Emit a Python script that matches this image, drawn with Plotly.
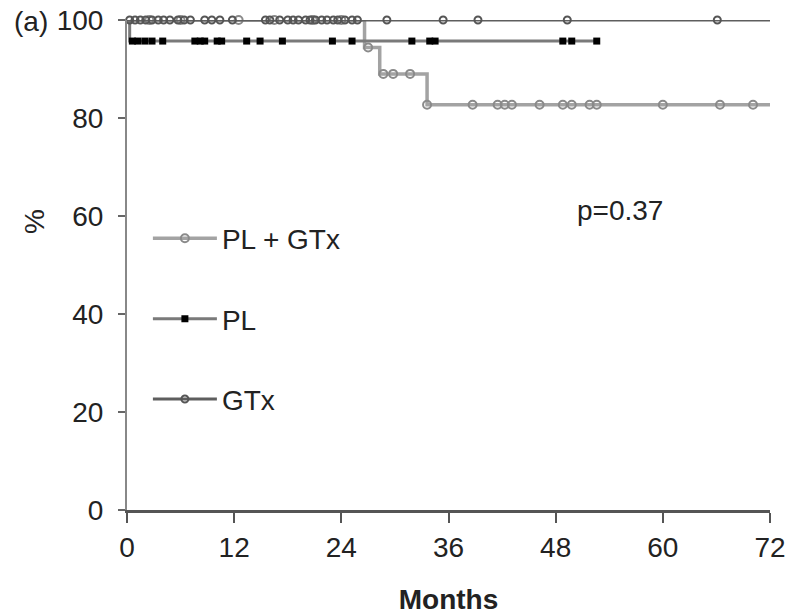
import numpy as np
import plotly.graph_objects as go

# ---------------- data ----------------
group_names = ["PL + GTx", "PL", "GTx"]

# PL + GTx
plgtx_event_times = [26.6, 28.3, 33.6]
plgtx_event_surv = [94.4, 89.0, 82.7]
plgtx_end = 72.0
plgtx_censor = [2.5, 6.0, 12.5, 16.5, 20.8, 24.0, 27.0, 28.7, 29.8, 31.7, 33.6,
                38.7, 41.5, 42.3, 43.1, 46.2, 48.8, 49.8, 51.8, 52.6, 60.0, 66.4, 70.1]

# PL
pl_event_times = [0.3]
pl_event_surv = [95.7]
pl_end = 52.6
pl_censor = [0.6, 1.2, 2.0, 2.8, 4.0, 7.6, 8.2, 8.7, 10.1, 10.6, 13.4, 14.9, 17.4,
             23.0, 25.2, 31.9, 33.9, 34.5, 48.8, 49.8, 52.6]

# GTx
gtx_event_times = []
gtx_event_surv = []
gtx_end = 72.0
gtx_censor = [0.3, 0.9, 1.5, 2.1, 2.8, 3.5, 4.1, 4.8, 5.7, 6.4, 7.1, 8.7, 9.5, 10.4,
              11.8, 15.5, 16.0, 17.1, 18.0, 18.6, 19.2, 20.0, 20.5, 21.1, 21.8, 22.4,
              23.1, 23.6, 24.4, 25.2, 25.8, 29.1, 35.4, 39.3, 49.3, 66.1]

x_ticks = [0, 12, 24, 36, 48, 60, 72]
y_ticks = [0, 20, 40, 60, 80, 100]
p_text = "p=0.37"

# ---------------- styles ----------------
FONT = "Liberation Sans, Arial, sans-serif"
styles = {
    "PL + GTx": dict(color="#a3a3a3", width=3.5, symbol="circle-open", msize=8, mcolor="#8a8a8a", mline=2),
    "PL": dict(color="#7a7a7a", width=3, symbol="square", msize=7, mcolor="#000000", mline=0),
    "GTx": dict(color="#5e5e5e", width=3, symbol="circle-open", msize=7, mcolor="#555555", mline=2),
}


def step_curve(times, surv, end):
    xs = [0.0] + list(times) + [end]
    ys = [100.0] + list(surv) + [surv[-1] if surv else 100.0]
    return xs, ys


def surv_at(t, times, surv):
    s = 100.0
    for ti, si in zip(times, surv):
        if t >= ti:
            s = si
    return s


groups = {
    "PL + GTx": (plgtx_event_times, plgtx_event_surv, plgtx_end, plgtx_censor),
    "PL": (pl_event_times, pl_event_surv, pl_end, pl_censor),
    "GTx": (gtx_event_times, gtx_event_surv, gtx_end, gtx_censor),
}

fig = go.Figure()
draw_order = ["PL + GTx", "PL", "GTx"]
for name in draw_order:
    times, surv, end, cens = groups[name]
    st = styles[name]
    xs, ys = step_curve(times, surv, end)
    fig.add_trace(go.Scatter(x=xs, y=ys, mode="lines", line=dict(shape="hv", color=st["color"], width=st["width"]),
                             showlegend=False, cliponaxis=False, hoverinfo="skip"))
    cy = [surv_at(t, times, surv) for t in cens]
    fig.add_trace(go.Scatter(x=cens, y=cy, mode="markers",
                             marker=dict(symbol=st["symbol"], size=st["msize"], color=st["mcolor"],
                                         line=dict(width=st["mline"], color=st["mcolor"])),
                             showlegend=False, cliponaxis=False))

# legend-only traces
for i, name in enumerate(group_names):
    st = styles[name]
    fig.add_trace(go.Scatter(x=[None], y=[None], mode="lines+markers", name=name,
                             legendgroup=name, legendrank=i + 1,
                             line=dict(color=st["color"], width=st["width"]),
                             marker=dict(symbol=st["symbol"], size=st["msize"], color=st["mcolor"],
                                         line=dict(width=st["mline"], color=st["mcolor"]))))

fig.add_annotation(x=55.2, y=61.2, xref="x", yref="y", text=p_text, showarrow=False,
                   xanchor="center", yanchor="middle",
                   font=dict(family=FONT, size=28, color="#222"))
fig.add_annotation(x=-0.15, y=0.996, xref="paper", yref="paper", text="(a)", showarrow=False,
                   xanchor="center", yanchor="middle",
                   font=dict(family=FONT, size=28, color="#222"))
fig.add_annotation(x=-0.143, y=0.588, xref="paper", yref="paper", text="%", showarrow=False,
                   xanchor="center", yanchor="middle",
                   textangle=-90, font=dict(family=FONT, size=28, color="#222"))

fig.update_layout(
    width=792, height=616,
    margin=dict(l=127, r=22, t=20, b=106),
    paper_bgcolor="white", plot_bgcolor="white",
    font=dict(family=FONT, size=28, color="#222"),
    showlegend=True,
    legend=dict(x=0.0325, y=0.605, xanchor="left", yanchor="top", bgcolor="rgba(0,0,0,0)",
                itemwidth=64,
                tracegroupgap=41, font=dict(family=FONT, size=28, color="#222"), traceorder="grouped"),
    xaxis=dict(range=[0, 72], tickvals=x_ticks, ticktext=[str(v) for v in x_ticks],
               automargin=False, ticklabeloverflow="allow",
               showgrid=False, zeroline=False, showline=True, linecolor="#555", linewidth=3,
               ticks="outside", ticklen=10, tickwidth=2, tickcolor="#555",
               title=dict(text="<b>Months</b>", font=dict(family=FONT, size=28), standoff=28)),
    yaxis=dict(range=[0, 100], tickvals=y_ticks, ticktext=[str(v) for v in y_ticks],
               automargin=False, ticklabelstandoff=9, ticklabeloverflow="allow",
               showgrid=False, zeroline=False, showline=True, linecolor="#888", linewidth=2,
               ticks="outside", ticklen=7, tickwidth=2, tickcolor="#666"),
)

# remove the browser's default 8px body margin so the figure fills the window exactly
fig.write_html("out.html", config={"displayModeBar": False},
               post_script="document.body.style.margin='0';")
